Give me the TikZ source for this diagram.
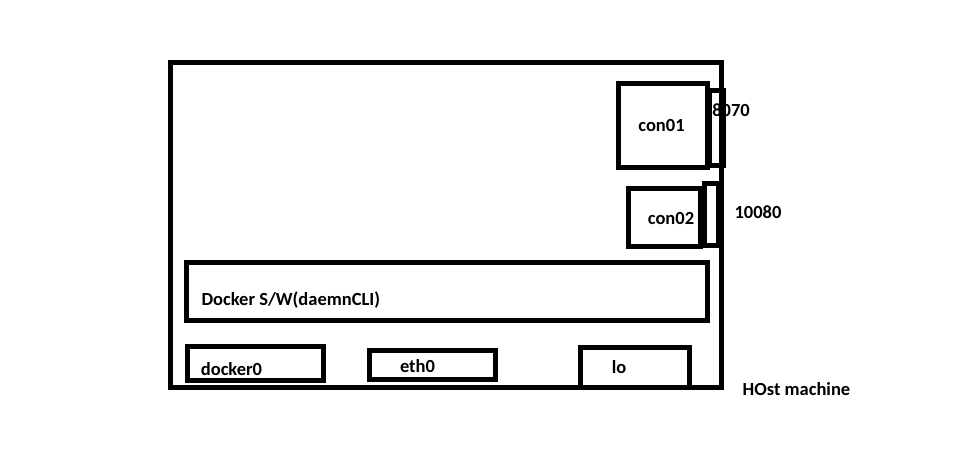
\documentclass[tikz,border=0pt]{standalone}
\usepackage{fontspec}
\setmainfont{Carlito}
\usepackage{tikz}
\usetikzlibrary{positioning}

\begin{document}
\begin{tikzpicture}[x=1pt, y=-1pt, line width=5pt,
		box/.style={draw, inner sep=0pt},
		txt/.style={anchor=base, inner sep=0pt, font=\bfseries\fontsize{18.5}{20}\selectfont}]
		\useasboundingbox (0,0) rectangle (954,475);

		% host and containers
		\node[box, minimum width=551.5pt, minimum height=325pt] (host) at (445.75,225) {};
		\node[box, minimum width=14pt, minimum height=75pt] (port01) at (716.5,128) {};
		\node[box, minimum width=89pt, minimum height=84pt] (con01) at (663,125.5) {};
		\node[box, minimum width=13.5pt, minimum height=62pt] (port02) at (711.25,214.5) {};
		\node[box, minimum width=72pt, minimum height=58pt] (con02) at (664.5,217.5) {};

		% docker software and interfaces
		\node[box, minimum width=521pt, minimum height=58pt] (docker) at (446.5,291.5) {};
		\node[box, minimum width=136pt, minimum height=34pt] (docker0) at (255.5,363.5) {};
		\node[box, minimum width=126pt, minimum height=29pt] (eth0) at (432.5,365) {};
		\node[box, minimum width=109pt, minimum height=40pt] (lo) at (635,367.5) {};

		% labels
		\node[txt] (t-con01) at (661.5,131.5) {con01};
		\node[txt] (t-con02) at (671,224) {con02};
		\node[txt] (t-port01) at (731,116.5) {8070};
		\node[txt] (t-port02) at (758,218) {10080};
		\node[txt, anchor=base west] (t-docker) at (199,305) {Docker S/W(daemnCLI)};
		\node[txt] (t-docker0) at (231.5,375) {docker0};
		\node[txt] (t-eth0) at (417.5,372) {eth0};
		\node[txt] (t-lo) at (619,373) {lo};
		\node[txt] (t-host) at (796.5,395) {HOst machine};

	\end{tikzpicture}
\end{document}
